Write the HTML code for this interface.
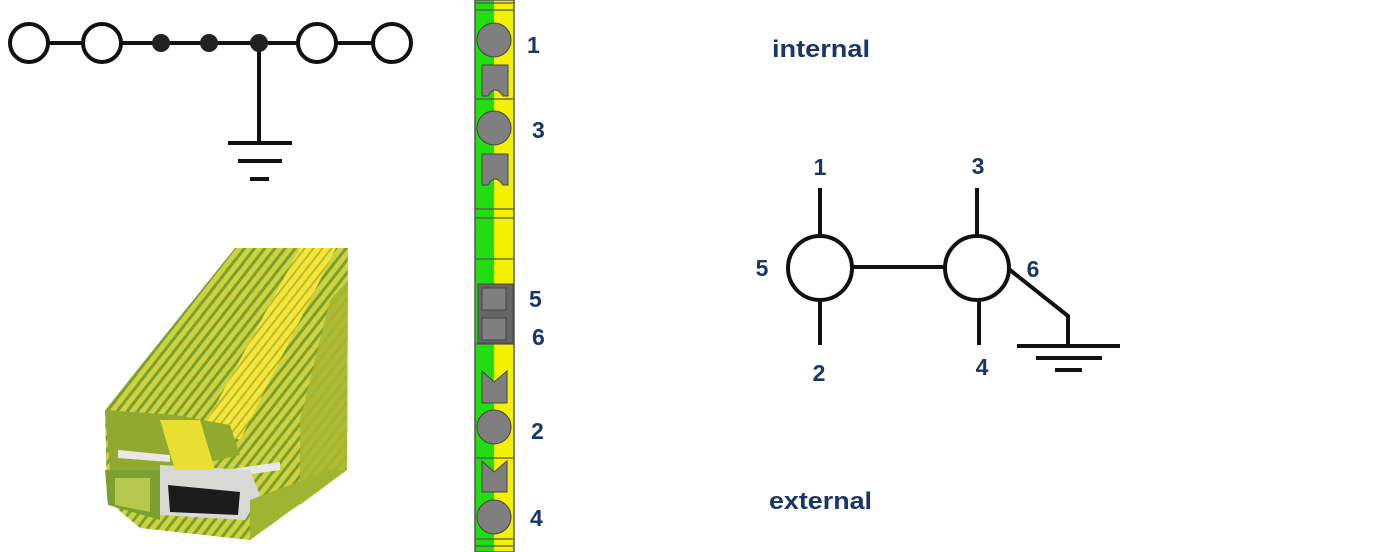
<!DOCTYPE html>
<html><head><meta charset="utf-8"><style>
html,body{margin:0;padding:0;background:#fff;width:1400px;height:552px;overflow:hidden}
svg{display:block}
text{font-family:"Liberation Sans",Arial,sans-serif;font-weight:bold;fill:#18366a}
</style></head><body>
<svg width="1400" height="552" viewBox="0 0 1400 552" xmlns="http://www.w3.org/2000/svg">
<defs>
<pattern id="ribs" width="8" height="8" patternUnits="userSpaceOnUse" patternTransform="rotate(-52)">
<rect width="8" height="8" fill="#cdd23e"/><rect width="8" height="3" fill="#7aa02e"/>
</pattern>
<pattern id="ribs2" width="7" height="7" patternUnits="userSpaceOnUse" patternTransform="rotate(-52)">
<rect width="7" height="7" fill="#f0e83c"/><rect width="7" height="2" fill="#c9b52a"/>
</pattern>
</defs>
<g stroke="#111" stroke-width="4" fill="none">
<line x1="29" y1="43" x2="392" y2="43"/>
<line x1="259" y1="43" x2="259" y2="143"/>
<line x1="228" y1="143" x2="292" y2="143"/>
<line x1="238" y1="161" x2="282" y2="161"/>
<line x1="250" y1="179" x2="269" y2="179"/>
<circle cx="29" cy="43" r="19" fill="#fff"/>
<circle cx="102" cy="43" r="19" fill="#fff"/>
<circle cx="317" cy="43" r="19" fill="#fff"/>
<circle cx="392" cy="43" r="19" fill="#fff"/>
</g>
<g fill="#222"><circle cx="161" cy="43" r="9"/><circle cx="209" cy="43" r="9"/><circle cx="259" cy="43" r="9"/></g>
<polygon points="235,248 348,248 347,470 250,540 140,528 107,500 105,410" fill="url(#ribs)"/>
<polygon points="300,248 336,248 240,440 205,425" fill="url(#ribs2)"/>
<polygon points="330,300 348,280 347,470 300,505 300,420" fill="#a9b832" opacity="0.9"/>
<polygon points="105,410 175,415 230,425 240,455 175,470 110,470" fill="#8faa2e"/>
<polygon points="105,470 160,470 160,520 108,505" fill="#7aa030"/>
<polygon points="115,478 150,478 150,512 115,505" fill="#b6c94e"/>
<polygon points="118,450 170,455 170,462 118,458" fill="#e8e8e8"/>
<polygon points="225,470 280,462 280,470 225,478" fill="#e8e8e8"/>
<polygon points="160,465 250,470 260,495 245,520 160,515" fill="#d8d8d4"/>
<polygon points="168,485 240,492 238,515 170,512" fill="#1c1c1c"/>
<polygon points="160,420 200,420 215,470 175,470" fill="#e9de32"/>
<polygon points="250,500 330,470 345,470 250,540" fill="#9fb430"/>
<rect x="475" y="0" width="39" height="552" fill="#f3f000"/>
<rect x="475" y="0" width="19" height="552" fill="#22dd10"/>
<rect x="475" y="0" width="39" height="552" fill="none" stroke="#555" stroke-width="1.5"/>
<g stroke="#555" stroke-width="1.2">
<line x1="475" y1="3" x2="514" y2="3"/><line x1="475" y1="10" x2="514" y2="10"/>
<line x1="475" y1="99" x2="514" y2="99"/>
<line x1="475" y1="209" x2="514" y2="209"/><line x1="475" y1="218" x2="514" y2="218"/>
<line x1="475" y1="259" x2="514" y2="259"/>
<line x1="475" y1="344" x2="514" y2="344"/>
<line x1="475" y1="458" x2="514" y2="458"/>
<line x1="475" y1="539" x2="514" y2="539"/><line x1="475" y1="546" x2="514" y2="546"/>
</g>
<g fill="#7f7f7f" stroke="#444" stroke-width="1">
<circle cx="494" cy="40" r="17"/>
<circle cx="494" cy="128" r="17"/>
<circle cx="494" cy="427" r="17"/>
<circle cx="494" cy="517" r="17"/>
<path d="M482,65 H508 V96 L503,96 Q495,84 488,96 H482 Z"/>
<path d="M482,154 H508 V185 L503,185 Q495,173 488,185 H482 Z"/>
<path d="M482,371 L494,382 L507,371 V403 H482 Z"/>
<path d="M482,461 L494,472 L507,461 V492 H482 Z"/>
<rect x="478" y="284" width="35" height="59" fill="#666"/>
<rect x="482" y="288" width="24" height="22"/>
<rect x="482" y="318" width="24" height="22"/>
</g>
<g font-size="23">
<text x="527" y="53">1</text><text x="532" y="138">3</text>
<text x="529" y="307">5</text><text x="532" y="345">6</text>
<text x="531" y="439">2</text><text x="530" y="526">4</text>
</g>
<text x="772" y="57" font-size="24" textLength="98" lengthAdjust="spacingAndGlyphs">internal</text>
<text x="769" y="509" font-size="24" textLength="103" lengthAdjust="spacingAndGlyphs">external</text>
<g stroke="#111" stroke-width="4" fill="none">
<line x1="820" y1="188" x2="820" y2="236"/>
<line x1="820" y1="300" x2="820" y2="345"/>
<line x1="977" y1="188" x2="977" y2="236"/>
<line x1="979" y1="300" x2="979" y2="345"/>
<line x1="853" y1="267" x2="945" y2="267"/>
<polyline points="1010,270 1068,316 1068,345"/>
<line x1="1017" y1="346" x2="1120" y2="346"/>
<line x1="1036" y1="358" x2="1102" y2="358"/>
<line x1="1055" y1="370" x2="1082" y2="370"/>
<circle cx="820" cy="268" r="32" fill="#fff"/>
<circle cx="977" cy="268" r="32" fill="#fff"/>
</g>
<g font-size="23" text-anchor="middle">
<text x="820" y="175">1</text><text x="762" y="276">5</text>
<text x="819" y="381">2</text><text x="978" y="174">3</text>
<text x="1033" y="277">6</text><text x="982" y="375">4</text>
</g>
</svg>
</body></html>
